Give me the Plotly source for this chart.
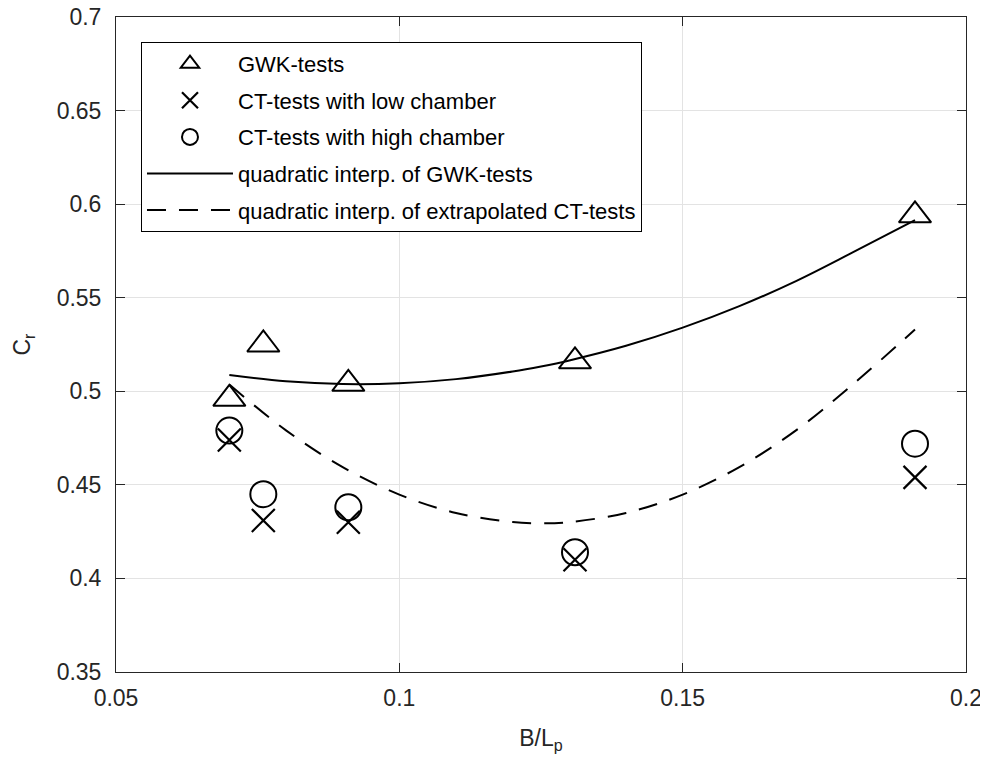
import plotly.graph_objects as go

# ---- data ----
b_lp = [0.070, 0.076, 0.091, 0.131, 0.191]
cr_gwk = [0.496, 0.525, 0.504, 0.516, 0.594]
cr_ct_low = [0.474, 0.431, 0.430, 0.410, 0.454]
cr_ct_high = [0.479, 0.445, 0.438, 0.414, 0.472]

fit_x = [0.070, 0.080, 0.090, 0.100, 0.110, 0.120, 0.125, 0.130, 0.140,
         0.150, 0.160, 0.170, 0.180, 0.191]
fit_gwk = [0.5087, 0.5054, 0.5039, 0.5043, 0.5065, 0.5106, 0.5133, 0.5165,
           0.5243, 0.5340, 0.5455, 0.5589, 0.5742, 0.5915]
fit_ct = [0.5036, 0.4791, 0.4595, 0.4448, 0.4350, 0.4301, 0.4295, 0.4301,
          0.4350, 0.4448, 0.4595, 0.4791, 0.5036, 0.5330]

x_ticks = [0.05, 0.1, 0.15, 0.2]
x_ticklabels = ["0.05", "0.1", "0.15", "0.2"]
y_ticks = [0.35, 0.4, 0.45, 0.5, 0.55, 0.6, 0.65, 0.7]
y_ticklabels = ["0.35", "0.4", "0.45", "0.5", "0.55", "0.6", "0.65", "0.7"]

FONT = "Liberation Sans, Arial, sans-serif"
AX = "#262626"
GRID = "#e3e3e3"

fig = go.Figure()
fig.add_trace(go.Scatter(
    x=b_lp, y=cr_gwk, mode="markers", name="GWK-tests", legendgroup="a",
    marker=dict(symbol="triangle-up-open", size=28, color="black",
                line=dict(width=2, color="black"))))
fig.add_trace(go.Scatter(
    x=b_lp, y=cr_ct_low, mode="markers", name="CT-tests with low chamber", legendgroup="b",
    marker=dict(symbol="x-thin-open", size=23, color="black",
                line=dict(width=2.2, color="black"))))
fig.add_trace(go.Scatter(
    x=b_lp, y=cr_ct_high, mode="markers", name="CT-tests with high chamber", legendgroup="c",
    marker=dict(symbol="circle-open", size=26, color="black",
                line=dict(width=2, color="black"))))
fig.add_trace(go.Scatter(
    x=fit_x, y=fit_gwk, mode="lines", name="quadratic interp. of GWK-tests", legendgroup="d",
    line=dict(color="black", width=2, shape="spline")))
fig.add_trace(go.Scatter(
    x=fit_x, y=fit_ct, mode="lines", name="quadratic interp. of extrapolated CT-tests",
    legendgroup="e",
    line=dict(color="black", width=2, shape="spline", dash="19px,13px")))

axis_common = dict(
    showline=True, linecolor=AX, linewidth=1, mirror="ticks",
    ticks="inside", ticklen=9, tickcolor=AX, tickwidth=1,
    showgrid=True, gridcolor=GRID, gridwidth=1, zeroline=False,
    automargin=False, ticklabeloverflow="allow",
    tickfont=dict(family=FONT, size=23, color=AX),
)

fig.update_xaxes(range=[0.05, 0.2], tickvals=x_ticks, ticktext=x_ticklabels,
                 title=dict(text="B/L<sub>p</sub>", font=dict(family=FONT, size=23, color=AX),
                            standoff=20),
                 ticklabelstandoff=5,
                 **axis_common)
fig.update_yaxes(range=[0.35, 0.7], tickvals=y_ticks, ticktext=y_ticklabels,
                 title=dict(text="C<sub>r</sub>", font=dict(family=FONT, size=23, color=AX),
                            standoff=19),
                 ticklabelstandoff=9,
                 **axis_common)

# page body adds an 8px offset, so the figure is 8px smaller and shifted margins
fig.update_layout(
    width=980, height=757,
    margin=dict(l=108, r=22, t=9, b=93, autoexpand=False),
    paper_bgcolor="white", plot_bgcolor="white",
    font=dict(family=FONT, color="black"),
    legend=dict(x=0.0294, y=0.962, xanchor="left", yanchor="top",
                bgcolor="white", bordercolor="black", borderwidth=1,
                font=dict(family=FONT, size=22, color="black"),
                traceorder="grouped", tracegroupgap=5, itemwidth=86),
    showlegend=True,
)

fig.write_html("out.html")
